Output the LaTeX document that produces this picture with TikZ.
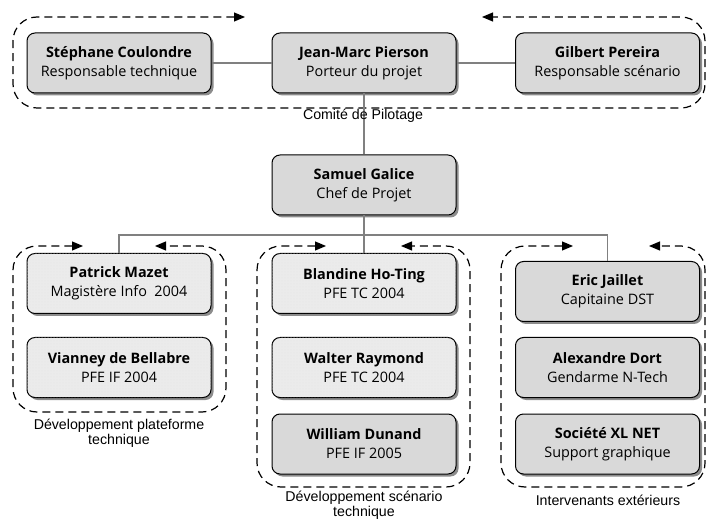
\documentclass[tikz,border=0pt]{standalone}
\usepackage{fontspec}
\setmainfont{Open Sans}
\newfontfamily\capfont{Liberation Sans}
\usetikzlibrary{arrows.meta,shadows,patterns}
\definecolor{boxgray}{HTML}{D9D9D9}
\definecolor{boxlight}{HTML}{EBEBEB}
\definecolor{linegray}{HTML}{808080}
\begin{document}
\begin{tikzpicture}[x=1pt,y=-1pt,
  person/.style={draw=black, line width=1pt, rounded corners=8pt, fill=boxgray,
    minimum width=184pt, minimum height=60pt, align=center, inner sep=0pt,
    font=\fontsize{14.4}{19}\selectfont,
    drop shadow={shadow xshift=2.5pt, shadow yshift=-2.5pt, fill=black!45, opacity=1}},
  student/.style={person, fill=boxlight,
    postaction={pattern=dots, pattern color=black!10}},
  link/.style={draw=linegray, line width=1.1pt},
  group/.style={draw=black, line width=1.2pt, dash pattern=on 8pt off 5pt,
    rounded corners=24pt, {Triangle[length=11pt,width=9pt]}-{Triangle[length=11pt,width=9pt]}},
  caption/.style={font=\capfont\fontsize{14.2}{15}\selectfont, align=center, inner sep=0pt}]
\useasboundingbox (0,0) rectangle (707,521);

% group outlines
\draw[group] (245,17) -- (13,17) -- (13,108) -- (705,108) -- (705,17) -- (482,17);
\draw[group] (83,246) -- (13,246) -- (13,412) -- (226,412) -- (226,246) -- (155,246);
\draw[group] (326,246) -- (257,246) -- (257,487) -- (470,487) -- (470,246) -- (401,246);
\draw[group] (573,246) -- (501,246) -- (501,487) -- (705,487) -- (705,246) -- (649,246);

% nodes
\node[person] (sc) at (119,63) {\textbf{Stéphane Coulondre}\\Responsable technique};
\node[person] (jmp) at (364,63) {\textbf{Jean-Marc Pierson}\\Porteur du projet};
\node[person] (gp) at (607.5,63) {\textbf{Gilbert Pereira}\\Responsable scénario};
\node[person] (sg) at (364,185) {\textbf{Samuel Galice}\\Chef de Projet};

\node[student] (pm) at (119,283.5) {\textbf{Patrick Mazet}\\Magistère Info\ \ 2004};
\node[student] (vb) at (119,367.5) {\textbf{Vianney de Bellabre}\\PFE IF 2004};

\node[student] (bht) at (364,283.5) {\textbf{Blandine Ho-Ting}\\PFE TC 2004};
\node[student] (wr) at (364,367.5) {\textbf{Walter Raymond}\\PFE TC 2004};
\node[person] (wd) at (364,444) {\textbf{William Dunand}\\PFE IF 2005};

\node[person] (ej) at (607.5,291.5) {\textbf{Eric Jaillet}\\Capitaine DST};
\node[person] (ad) at (607.5,367.5) {\textbf{Alexandre Dort}\\Gendarme N-Tech};
\node[person] (xl) at (607.5,444) {\textbf{Société XL NET}\\Support graphique};

% connectors
\coordinate (bus) at (364,235);
\draw[link] (sc) -- (jmp);
\draw[link] (jmp) -- (gp);
\draw[link] (jmp) -- (sg);
\draw[link] (sg) -- (bus);
\draw[link] (bus) -| (pm);
\draw[link] (bus) -- (bht);
\draw[link] (bus) -| (ej);

% captions
\node[caption] (c1) at (363,116) {Comité de Pilotage};
\node[caption] (c2) at (119,433) {Développement plateforme\\technique};
\node[caption] (c3) at (364,505) {Développement scénario\\technique};
\node[caption] (c4) at (608,500) {Intervenants extérieurs};
\end{tikzpicture}
\end{document}
